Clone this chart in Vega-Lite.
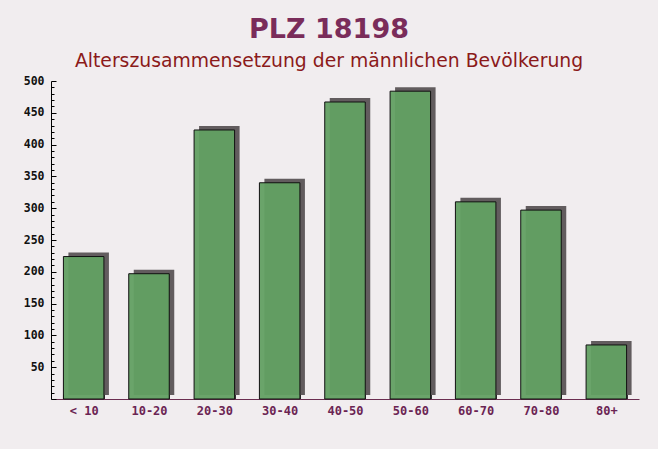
{
  "$schema": "https://vega.github.io/schema/vega-lite/v6.json",
  "width": 588,
  "height": 318,
  "autosize": {"type": "none"},
  "padding": {"left": 51, "top": 81, "right": 19, "bottom": 50},
  "background": "#f1edef",
  "title": {
    "text": "PLZ 18198",
    "subtitle": "Alterszusammensetzung der männlichen Bevölkerung",
    "anchor": "middle",
    "dx": -16,
    "offset": 3,
    "font": "DejaVu Sans",
    "fontSize": 27,
    "fontWeight": "bold",
    "color": "#7a2c5a",
    "subtitleFont": "DejaVu Sans",
    "subtitleFontSize": 18.8,
    "subtitleColor": "#8b1a1a",
    "subtitlePadding": 8
  },
  "config": {"view": {"stroke": null}},
  "data": {
    "values": [
      {"age": "< 10", "count": 224},
      {"age": "10-20", "count": 197},
      {"age": "20-30", "count": 423},
      {"age": "30-40", "count": 340},
      {"age": "40-50", "count": 467},
      {"age": "50-60", "count": 484},
      {"age": "60-70", "count": 310},
      {"age": "70-80", "count": 297},
      {"age": "80+", "count": 85}
    ]
  },
  "encoding": {
    "x": {
      "field": "age",
      "type": "nominal",
      "sort": null,
      "scale": {"paddingInner": 0.38, "paddingOuter": 0.19},
      "axis": {
        "title": null,
        "labelAngle": 0,
        "tickBand": "extent",
        "tickSize": -5,
        "labelPadding": 11,
        "domainColor": "#6b2d50",
        "tickColor": "#333333",
        "labelFont": "DejaVu Sans Mono",
        "labelFontWeight": "bold",
        "labelFontSize": 12,
        "labelColor": "#6b2453"
      }
    },
    "y": {
      "field": "count",
      "type": "quantitative",
      "scale": {"domain": [0, 500], "nice": false},
      "axis": {
        "title": null,
        "grid": false,
        "values": [0,10,20,30,40,50,60,70,80,90,100,110,120,130,140,150,160,170,180,190,200,210,220,230,240,250,260,270,280,290,300,310,320,330,340,350,360,370,380,390,400,410,420,430,440,450,460,470,480,490,500],
        "labelExpr": "datum.value % 50 == 0 && datum.value > 0 ? datum.label : ''",
        "tickSize": {"condition": {"test": "datum.value % 50 == 0", "value": -5}, "value": -3},
        "labelPadding": 12,
        "domainColor": "#000000",
        "tickColor": "#000000",
        "labelFont": "DejaVu Sans Mono",
        "labelFontWeight": "bold",
        "labelFontSize": 11.5,
        "labelColor": "#111111"
      }
    }
  },
  "layer": [
    {"mark": {"type": "bar", "color": "#625c5e", "xOffset": 5, "yOffset": -4}},
    {"mark": {"type": "bar", "fill": "#62a062", "fillOpacity": 0.95, "stroke": "#111111", "strokeWidth": 1}}
  ]
}
